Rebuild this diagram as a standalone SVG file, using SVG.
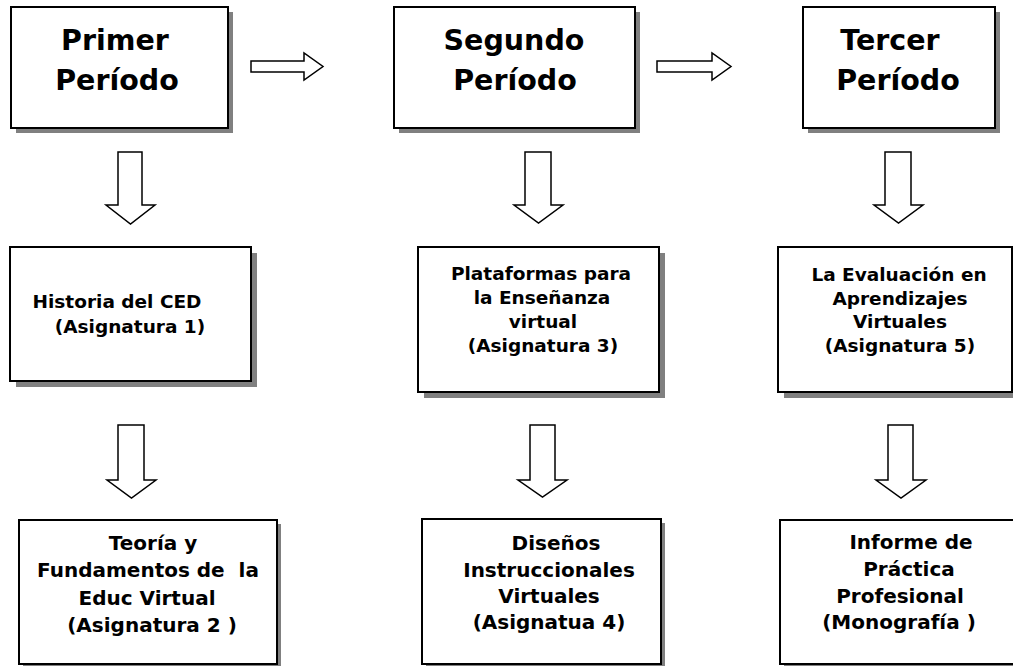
<svg xmlns="http://www.w3.org/2000/svg" width="1013" height="666" viewBox="0 0 1013 666">
<style>
.box{fill:#fff;stroke:#000;stroke-width:2}
.shadow{fill:#808080}
.arrow{fill:#fff;stroke:#000;stroke-width:1.5;stroke-linejoin:miter}
text{font-family:"DejaVu Sans",Verdana,sans-serif;font-weight:bold;fill:#000;text-anchor:middle}
.title{font-size:28.5px}
.t2{font-size:18.5px}
.t3{font-size:20px}
</style>
<rect width="1013" height="666" fill="#fff"/>
<g id="connectors">
<polygon class="arrow" points="251,61 304,61 304,53 323,66.5 304,80 304,72 251,72"/>
<polygon class="arrow" points="657,61 712,61 712,53 731,66.5 712,80 712,72 657,72"/>
<polygon class="arrow" points="118,152 142,152 142,205 155,205 130.5,224 106,205 118,205"/>
<polygon class="arrow" points="525,152 551,152 551,205 563,205 538.5,223 514,205 525,205"/>
<polygon class="arrow" points="885,152 911,152 911,205 923,205 898.5,223 874,205 885,205"/>
<polygon class="arrow" points="118,425 144,425 144,480 156,480 131.5,498 107,480 118,480"/>
<polygon class="arrow" points="530,425 555,425 555,480 567,480 542.5,497 518,480 530,480"/>
<polygon class="arrow" points="888,425 913,425 913,480 926,480 901,498 876,480 888,480"/>
</g>
<g id="primer">
<rect class="shadow" x="16" y="12" width="217" height="121"/>
<rect class="box" x="11" y="7" width="217" height="121"/>
<text class="title" x="115" y="50">Primer</text>
<text class="title" x="117" y="90">Período</text>
</g>
<g id="segundo">
<rect class="shadow" x="399" y="12" width="241" height="121"/>
<rect class="box" x="394" y="7" width="241" height="121"/>
<text class="title" x="514" y="50">Segundo</text>
<text class="title" x="515" y="90">Período</text>
</g>
<g id="tercer">
<rect class="shadow" x="808" y="12" width="192" height="121"/>
<rect class="box" x="803" y="7" width="192" height="121"/>
<text class="title" x="890" y="50">Tercer</text>
<text class="title" x="898" y="90">Período</text>
</g>
<g id="historia">
<rect class="shadow" x="16" y="253" width="241" height="134"/>
<rect class="box" x="10" y="247" width="241" height="134"/>
<text class="t2" x="117" y="308">Historia del CED</text>
<text class="t2" x="130" y="333">(Asignatura 1)</text>
</g>
<g id="plataformas">
<rect class="shadow" x="424" y="253" width="241" height="145"/>
<rect class="box" x="418" y="247" width="241" height="145"/>
<text class="t2" x="541" y="280">Plataformas para</text>
<text class="t2" x="542" y="304">la Enseñanza</text>
<text class="t2" x="543" y="328">virtual</text>
<text class="t2" x="543" y="352">(Asignatura 3)</text>
</g>
<g id="evaluacion">
<rect class="shadow" x="784" y="253" width="234" height="145"/>
<rect class="box" x="778" y="247" width="234" height="145"/>
<text class="t2" x="899" y="281">La Evaluación en</text>
<text class="t2" x="900" y="305">Aprendizajes</text>
<text class="t2" x="900" y="328">Virtuales</text>
<text class="t2" x="900" y="352">(Asignatura 5)</text>
</g>
<g id="teoria">
<rect class="shadow" x="23" y="524" width="258" height="144"/>
<rect class="box" x="19" y="520" width="258" height="144"/>
<text class="t3" x="153" y="550">Teoría y</text>
<text class="t3" x="148" y="577" xml:space="preserve">Fundamentos de  la</text>
<text class="t3" x="147" y="605">Educ Virtual</text>
<text class="t3" x="152" y="632">(Asignatura 2 )</text>
</g>
<g id="disenos">
<rect class="shadow" x="426" y="523" width="239" height="145"/>
<rect class="box" x="422" y="519" width="239" height="145"/>
<text class="t3" x="556" y="550">Diseños</text>
<text class="t3" x="549" y="577">Instruccionales</text>
<text class="t3" x="549" y="603">Virtuales</text>
<text class="t3" x="549" y="629">(Asignatua 4)</text>
</g>
<g id="informe">
<rect class="shadow" x="784" y="524" width="235" height="144"/>
<rect class="box" x="780" y="520" width="235" height="144"/>
<text class="t3" x="911" y="549">Informe de</text>
<text class="t3" x="909" y="576">Práctica</text>
<text class="t3" x="900" y="603">Profesional</text>
<text class="t3" x="899" y="629">(Monografía )</text>
</g>
</svg>
